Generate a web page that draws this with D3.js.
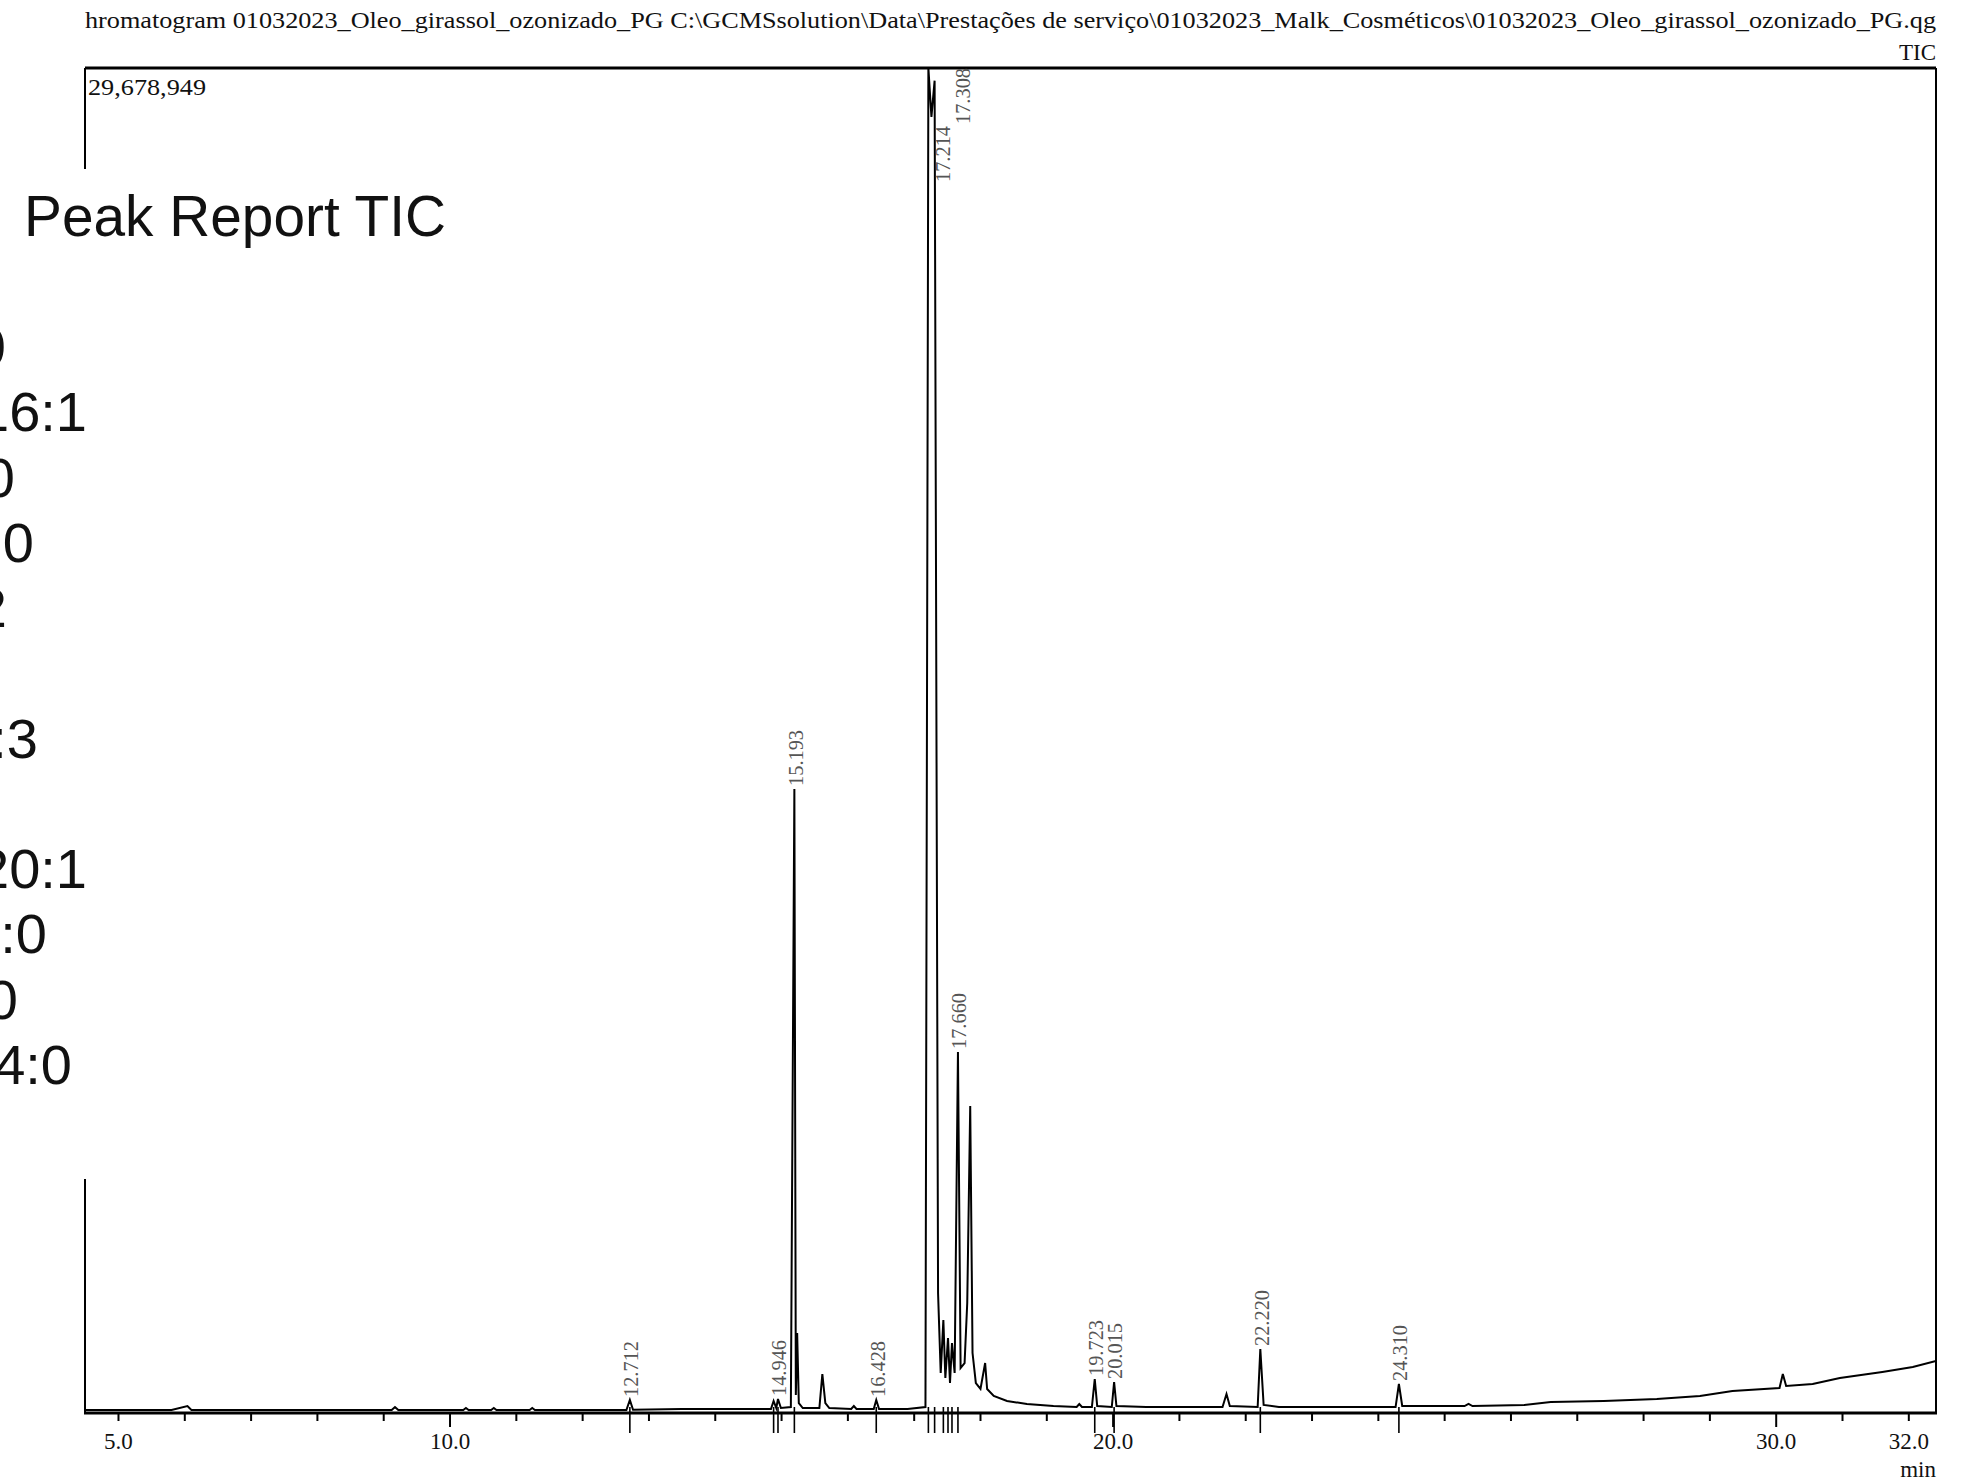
<!DOCTYPE html>
<html>
<head>
<meta charset="utf-8">
<script src="https://cdn.jsdelivr.net/npm/d3@7"></script>
<style>
  html, body { margin: 0; padding: 0; background: #fff; }
  svg { display: block; }
</style>
</head>
<body>
<svg id="chart" width="1967" height="1481"></svg>
<script>
// ---- data -------------------------------------------------------------
const headerText = "hromatogram 01032023_Oleo_girassol_ozonizado_PG C:\\GCMSsolution\\Data\\Prestações de serviço\\01032023_Malk_Cosméticos\\01032023_Oleo_girassol_ozonizado_PG.qg";
const channelName = "TIC";
const maxIntensity = 29678949;

// retention time (min) and TIC intensity (counts)
const retentionTime = [
  4.495, 5.80, 6.04, 6.10, 7.00, 9.12, 9.17, 9.22, 10.20, 10.24, 10.28,
  10.62, 10.66, 10.70, 11.20, 11.24, 11.28, 12.66, 12.712, 12.76, 13.50,
  14.84, 14.88, 14.92, 14.946, 14.99, 15.14, 15.193, 15.215, 15.235, 15.26,
  15.32, 15.57, 15.615, 15.66, 15.72, 16.05, 16.09, 16.13, 16.39, 16.428,
  16.47, 16.90, 17.17, 17.214, 17.26, 17.308, 17.36, 17.40, 17.44, 17.47,
  17.51, 17.54, 17.57, 17.61, 17.660, 17.70, 17.76, 17.80, 17.845, 17.88,
  17.93, 18.00, 18.07, 18.10, 18.20, 18.40, 18.70, 19.10, 19.45, 19.49,
  19.53, 19.68, 19.723, 19.76, 19.98, 20.015, 20.05, 20.50, 21.65, 21.71,
  21.76, 22.18, 22.220, 22.27, 22.50, 24.26, 24.310, 24.36, 25.30, 25.36,
  25.42, 26.20, 26.60, 27.40, 28.20, 28.85, 29.34, 30.05, 30.10, 30.15,
  30.55, 30.96, 31.60, 32.06, 32.41
];
const ticIntensity = [
  66000, 66000, 154000, 66000, 66000, 66000, 132000, 66000, 66000, 110000, 66000,
  66000, 110000, 66000, 66000, 110000, 66000, 66000, 287000, 70000, 88000,
  88000, 265000, 110000, 309000, 110000, 132000, 13770000, 397000, 1765000, 220000,
  110000, 110000, 860000, 220000, 110000, 88000, 154000, 88000, 88000, 287000,
  88000, 88000, 132000, 29678949, 28600000, 29400000, 2648000, 883000, 2050000, 772000,
  1655000, 662000, 1545000, 883000, 7966000, 993000, 1103000, 2427000, 6774000, 1324000,
  662000, 530000, 1103000, 530000, 375000, 265000, 199000, 154000, 132000, 199000,
  132000, 132000, 750000, 154000, 132000, 684000, 154000, 132000, 132000, 419000,
  154000, 132000, 1412000, 177000, 132000, 132000, 640000, 154000, 154000, 199000,
  154000, 177000, 243000, 265000, 309000, 375000, 485000, 552000, 860000, 596000,
  640000, 772000, 905000, 1015000, 1147000
];

// integrated peaks with their retention-time labels
const peakTimes  = [12.712, 14.946, 15.193, 16.428, 17.214, 17.308, 17.660, 19.723, 20.015, 22.220, 24.310];
const peakLabels = ["12.712", "14.946", "15.193", "16.428", "17.214", "17.308", "17.660", "19.723", "20.015", "22.220", "24.310"];
// retention-time marks drawn under the axis
const markTimes = [12.712, 14.88, 14.946, 15.193, 16.428, 17.214, 17.308, 17.44, 17.51, 17.57, 17.660, 19.723, 20.015, 22.220, 24.310];

const xTickValues = [5, 10, 20, 30, 32];
const xAxisUnit = "min";

// peak report panel
const reportTitle = "Peak Report TIC";
const reportRows = ["C16:0", "C16:1", "C17:0", "C18:0", "C18:2", null, "C18:3", null, "C20:1", "C20:0", "C22:0", "C24:0"];

// ---- layout -----------------------------------------------------------
const frame = { left: 85, right: 1936, top: 68, bottom: 1413 };
const serif = "'Liberation Serif', 'Times New Roman', serif";
const sans = "'Liberation Sans', Arial, sans-serif";

const svg = d3.select("#chart");

const x = d3.scaleLinear().domain([4.495, 32.41]).range([frame.left, frame.right]);
const y = d3.scaleLinear().domain([0, maxIntensity]).range([frame.bottom, frame.top]);

// header line
svg.append("text")
  .attr("x", frame.left).attr("y", 28)
  .attr("font-family", serif).attr("font-size", 23)
  .attr("textLength", frame.right - frame.left)
  .attr("lengthAdjust", "spacingAndGlyphs")
  .attr("fill", "#111")
  .text(headerText);

svg.append("text")
  .attr("x", frame.right).attr("y", 60)
  .attr("text-anchor", "end")
  .attr("font-family", serif).attr("font-size", 23)
  .attr("fill", "#111")
  .text(channelName);

// clip for the trace
svg.append("defs").append("clipPath").attr("id", "plotClip")
  .append("rect")
  .attr("x", frame.left).attr("y", frame.top)
  .attr("width", frame.right - frame.left)
  .attr("height", frame.bottom - frame.top);

// x axis: minute ticks, longer ticks every 10 min
const minuteTicks = d3.range(5, 33);
svg.append("g").selectAll("line").data(minuteTicks).join("line")
  .attr("x1", d => x(d)).attr("x2", d => x(d))
  .attr("y1", frame.bottom)
  .attr("y2", d => frame.bottom + (d % 10 === 0 ? 14 : 8))
  .attr("stroke", "#000").attr("stroke-width", 2);

svg.append("g").selectAll("text").data(xTickValues).join("text")
  .attr("x", d => x(d)).attr("y", 1449)
  .attr("text-anchor", "middle")
  .attr("font-family", serif).attr("font-size", 23)
  .attr("fill", "#111")
  .text(d => d3.format(".1f")(d));

svg.append("text")
  .attr("x", frame.right).attr("y", 1477)
  .attr("text-anchor", "end")
  .attr("font-family", serif).attr("font-size", 23)
  .attr("fill", "#111")
  .text(xAxisUnit);

// retention-time marks below the axis
svg.append("g").selectAll("line").data(markTimes).join("line")
  .attr("x1", d => x(d)).attr("x2", d => x(d))
  .attr("y1", frame.bottom - 6).attr("y2", frame.bottom + 20)
  .attr("stroke", "#000").attr("stroke-width", 1.6);

// chromatogram trace
const points = retentionTime.map((t, i) => [t, ticIntensity[i]]);
svg.append("path")
  .datum(points)
  .attr("clip-path", "url(#plotClip)")
  .attr("fill", "none")
  .attr("stroke", "#000")
  .attr("stroke-width", 2)
  .attr("stroke-linejoin", "miter")
  .attr("d", d3.line().x(d => x(d[0])).y(d => y(d[1])));

// frame
svg.append("line").attr("x1", frame.left).attr("x2", frame.right)
  .attr("y1", frame.top).attr("y2", frame.top)
  .attr("stroke", "#000").attr("stroke-width", 3);
svg.append("line").attr("x1", frame.left - 1).attr("x2", frame.right + 1)
  .attr("y1", frame.bottom).attr("y2", frame.bottom)
  .attr("stroke", "#000").attr("stroke-width", 3);
svg.append("line").attr("x1", frame.left).attr("x2", frame.left)
  .attr("y1", frame.top).attr("y2", frame.bottom)
  .attr("stroke", "#000").attr("stroke-width", 2);
svg.append("line").attr("x1", frame.right).attr("x2", frame.right)
  .attr("y1", frame.top).attr("y2", frame.bottom)
  .attr("stroke", "#000").attr("stroke-width", 2);

// maximum intensity readout
svg.append("text")
  .attr("x", frame.left + 3).attr("y", 95)
  .attr("font-family", serif).attr("font-size", 23)
  .attr("textLength", 118).attr("lengthAdjust", "spacingAndGlyphs")
  .attr("fill", "#111")
  .text(d3.format(",")(maxIntensity));

// peak labels, written upward from the apex
const intensityAt = t => ticIntensity[retentionTime.indexOf(t)];
const clippedSlots = [{ dx: 14, y: 182 }, { dx: 28, y: 124 }];
let clippedCount = 0;
const labelPos = peakTimes.map((t, i) => {
  const px = x(t), py = y(intensityAt(t));
  if (py < frame.top + 70) {
    const slot = clippedSlots[clippedCount++];
    return { x: px + slot.dx, y: slot.y, text: peakLabels[i] };
  }
  return { x: px + 1, y: py - 3, text: peakLabels[i] };
});
svg.append("g").selectAll("text").data(labelPos).join("text")
  .attr("transform", d => `translate(${d.x},${d.y}) rotate(-90)`)
  .attr("dy", "0.35em")
  .attr("font-family", serif).attr("font-size", 21)
  .attr("textLength", 56).attr("lengthAdjust", "spacingAndGlyphs")
  .attr("fill", "#555")
  .text(d => d.text);

// peak report panel laid over the left part of the chart
svg.append("rect")
  .attr("x", 0).attr("y", 169).attr("width", 470).attr("height", 1010)
  .attr("fill", "#fff");

svg.append("text")
  .attr("x", 24).attr("y", 236)
  .attr("font-family", sans).attr("font-size", 57)
  .attr("textLength", 422).attr("lengthAdjust", "spacingAndGlyphs")
  .attr("fill", "#111")
  .text(reportTitle);

const rowY = d3.scaleLinear().domain([0, reportRows.length - 1]).range([366, 1084]);
const rowEnd = [6, 87, 15, 34, 7, 0, 38, 0, 87, 47, 18, 72];
svg.append("g").selectAll("text")
  .data(reportRows.map((r, i) => ({ r, i })).filter(d => d.r !== null))
  .join("text")
  .attr("x", d => rowEnd[d.i]).attr("y", d => rowY(d.i))
  .attr("text-anchor", "end")
  .attr("font-family", sans).attr("font-size", 56)
  .attr("fill", "#111")
  .text(d => d.r);
</script>
</body>
</html>
